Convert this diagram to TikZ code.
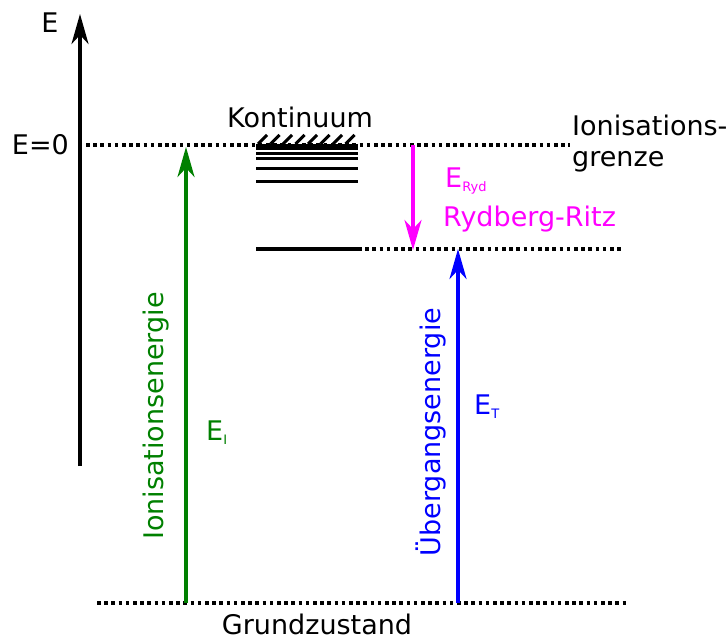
\documentclass[tikz,border=0pt]{standalone}
\usepackage{fontspec}
\setmainfont{DejaVu Sans}
\usetikzlibrary{arrows.meta}
\definecolor{ionGreen}{RGB}{0,128,0}
\definecolor{transBlue}{RGB}{0,0,255}
\definecolor{rydMagenta}{RGB}{255,0,255}
\tikzset{
  level/.style={line width=3.4pt},
  contlevel/.style={line width=3pt},
  dotlevel/.style={line width=3.6pt, dash pattern=on 3.6pt off 3.6pt},
  energyarrow/.style={line width=3.4pt, -{Stealth[length=30pt,width=17pt,inset=9pt]}},
  lbl/.style={font=\fontsize{27}{32}\selectfont, inner sep=0pt}
}
\begin{document}
\begin{tikzpicture}[x=1pt,y=-1pt]
\useasboundingbox (0,0) rectangle (727,639);

% energy axis
\coordinate (axisBot) at (80,466);
\coordinate (axisTop) at (80,14);
\draw[energyarrow] (axisBot) -- (axisTop);
\node[lbl, anchor=base] (eLabel) at (50,33) {E};
\node[lbl, anchor=base east] (eZero) at (69,155) {E=0};

% ionisation limit
\coordinate (ionL) at (86,145);
\coordinate (ionR) at (570,145);
\draw[dotlevel] (ionL) -- (ionR);
\node[lbl, anchor=base west] (ionTxt) at (572,136) {Ionisations-};
\node[lbl, anchor=base west] (grenzeTxt) at (572,166) {grenze};

% continuum: converging series of levels below the limit
\foreach \yy in {145.5,148.5,153.5,158.5,168,181.5}
  \draw[contlevel] (256,\yy) -- (358,\yy);
\foreach \xx in {258,270.5,283,295.5,308,320.5,333,345.5}
  \draw[line width=3pt] (\xx,144) -- (\xx+9,135);
\node[lbl, anchor=base] (kont) at (300,128) {Kontinuum};

% Rydberg level
\coordinate (rydL) at (256,249);
\coordinate (rydM) at (358,249);
\coordinate (rydR) at (622,249);
\draw[level] (rydL) -- (rydM);
\draw[dotlevel] (rydM) -- (rydR);

% ground state
\coordinate (gndL) at (97,603);
\coordinate (gndR) at (627,603);
\draw[dotlevel] (gndL) -- (gndR);
\node[lbl, anchor=base] (gnd) at (317,634) {Grundzustand};

% ionisation energy
\coordinate (ionFrom) at (186,603);
\coordinate (ionTo) at (186,147);
\draw[energyarrow, ionGreen] (ionFrom) -- (ionTo);
\node[lbl, ionGreen, rotate=90, anchor=base] (ionE) at (163,416) {Ionisationsenergie};
\node[lbl, ionGreen, anchor=base west] (eI) at (206,440) {E\raisebox{-4pt}{\fontsize{13}{15}\selectfont I}};

% transition energy
\coordinate (trFrom) at (458,603);
\coordinate (trTo) at (458,249);
\draw[energyarrow, transBlue] (trFrom) -- (trTo);
\node[lbl, transBlue, rotate=90, anchor=base] (trE) at (440,432) {Übergangsenergie};
\node[lbl, transBlue, anchor=base west] (eT) at (474,414) {E\raisebox{-4pt}{\fontsize{13}{15}\selectfont T}};

% Rydberg energy
\coordinate (rydFrom) at (413,145);
\coordinate (rydTo) at (413,250);
\draw[energyarrow, rydMagenta] (rydFrom) -- (rydTo);
\node[lbl, rydMagenta, anchor=base west] (eRyd) at (445,187) {E\raisebox{-4pt}{\fontsize{13}{15}\selectfont Ryd}};
\node[lbl, rydMagenta, anchor=base west] (rydTxt) at (443,226) {Rydberg-Ritz};
\end{tikzpicture}
\end{document}
